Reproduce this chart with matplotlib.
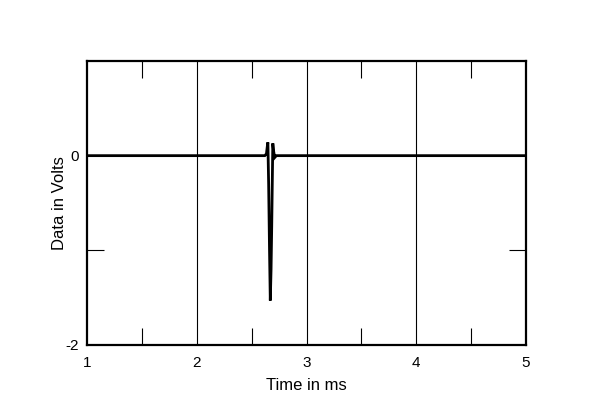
import matplotlib.pyplot as plt
from matplotlib.ticker import FixedLocator

plt.rcParams['font.family'] = ['Liberation Sans', 'DejaVu Sans']

# impulse response trace (time in ms, volts)
time_ms = [1.0, 2.62, 2.635, 2.645, 2.648, 2.655, 2.663, 2.670, 2.677,
           2.683, 2.688, 2.693, 2.700, 2.710, 2.725, 5.0]
volts = [0.0, 0.0, 0.02, 0.12, 0.14, -0.3, -1.0, -1.53, -1.2,
         -0.75, -0.3, 0.13, 0.05, -0.02, 0.0, 0.0]

x_ticks = [1, 2, 3, 4, 5]
x_minor = [1.5, 2.5, 3.5, 4.5]
y_ticks = [-2, 0]
y_tick_labels = ["-2", "0"]
y_minor = [-1]

fig = plt.figure(figsize=(6.0, 4.09), dpi=100)
ax = fig.add_axes([0.145, 0.1565, 0.7317, 0.6944])

ax.plot(time_ms, volts, color="black", lw=2.0, solid_joinstyle="miter")

ax.set_xlim(1, 5)
ax.set_ylim(-2, 1)

ax.set_xticks(x_ticks)
ax.set_xticklabels([str(v) for v in x_ticks])
ax.xaxis.set_minor_locator(FixedLocator(x_minor))
ax.set_yticks(y_ticks)
ax.set_yticklabels(y_tick_labels)
ax.yaxis.set_minor_locator(FixedLocator(y_minor))

ax.tick_params(axis="both", which="major", length=0, labelsize=11, pad=6)
ax.tick_params(axis="x", which="major", pad=8)
ax.tick_params(axis="x", which="minor", direction="in", length=12,
               width=0.8, top=True, bottom=True)
ax.tick_params(axis="y", which="minor", direction="in", length=12,
               width=0.8, left=True, right=True)

for xv in x_ticks[1:-1]:
    ax.axvline(xv, color="black", lw=0.8, zorder=0)

for s in ax.spines.values():
    s.set_linewidth(1.6)

ax.set_xlabel("Time in ms", fontsize=12, labelpad=6)
ax.set_ylabel("Data in Volts", fontsize=12, labelpad=-1)

fig.savefig("out.png", dpi=100)
